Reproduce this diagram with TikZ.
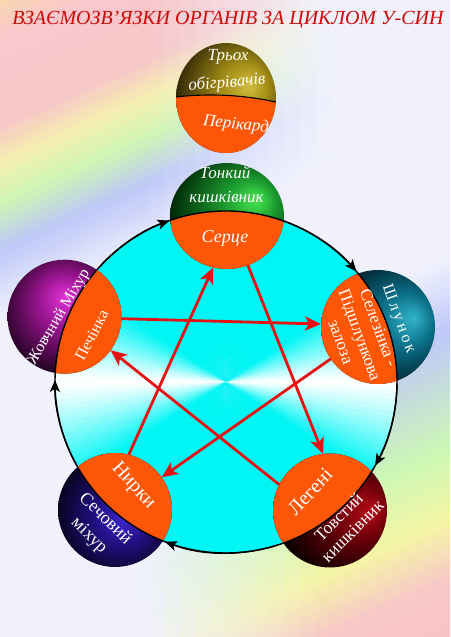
\documentclass[tikz,border=0pt]{standalone}
\usepackage{fontspec}
\setmainfont{Liberation Serif}
\usetikzlibrary{arrows.meta,calc,shapes.geometric}
\definecolor{org}{RGB}{252,86,6}
\definecolor{cy}{RGB}{0,245,245}
\definecolor{redc}{RGB}{228,18,18}
\definecolor{titred}{RGB}{205,10,10}
\definecolor{basec}{RGB}{240,241,252}
\definecolor{olA}{RGB}{210,190,60}
\definecolor{olB}{RGB}{160,138,20}
\definecolor{olC}{RGB}{50,40,5}
\definecolor{grA}{RGB}{70,230,80}
\definecolor{grB}{RGB}{25,150,45}
\definecolor{grC}{RGB}{0,40,8}
\definecolor{puA}{RGB}{225,50,215}
\definecolor{puB}{RGB}{150,20,140}
\definecolor{puC}{RGB}{25,0,25}
\definecolor{teA}{RGB}{50,180,200}
\definecolor{teB}{RGB}{10,110,135}
\definecolor{teC}{RGB}{0,25,35}
\definecolor{inA}{RGB}{60,40,205}
\definecolor{inB}{RGB}{35,15,130}
\definecolor{inC}{RGB}{5,0,15}
\definecolor{maA}{RGB}{180,10,20}
\definecolor{maB}{RGB}{110,0,10}
\definecolor{maC}{RGB}{12,0,0}
\pgfdeclareradialshading{shOl}{\pgfpoint{12bp}{6bp}}{color(0bp)=(olA); color(12bp)=(olB); color(30bp)=(olC); color(50bp)=(olC)}
\pgfdeclareradialshading{shGr}{\pgfpoint{13bp}{8bp}}{color(0bp)=(grA); color(12bp)=(grB); color(30bp)=(grC); color(50bp)=(grC)}
\pgfdeclareradialshading{shPu}{\pgfpoint{0bp}{9bp}}{color(0bp)=(puA); color(12bp)=(puB); color(30bp)=(puC); color(50bp)=(puC)}
\pgfdeclareradialshading{shTe}{\pgfpoint{16bp}{4bp}}{color(0bp)=(teA); color(12bp)=(teB); color(30bp)=(teC); color(50bp)=(teC)}
\pgfdeclareradialshading{shIn}{\pgfpoint{4bp}{-4bp}}{color(0bp)=(inA); color(12bp)=(inB); color(30bp)=(inC); color(50bp)=(inC)}
\pgfdeclareradialshading{shMa}{\pgfpoint{18bp}{0bp}}{color(0bp)=(maA); color(12bp)=(maB); color(30bp)=(maC); color(50bp)=(maC)}
\begin{document}
\begin{tikzpicture}[x=1pt,y=1pt,
  sph/.style={circle, inner sep=0pt, outer sep=0pt, minimum size=114pt, shade},
  circ/.style={line width=1.4pt, draw=black},
  circar/.style={circ, -{Stealth[length=12pt,width=10pt,inset=3pt]}},
  redar/.style={line width=2.8pt, draw=redc, -{Stealth[length=16pt,width=14pt,inset=4pt]}},
  itl/.style={text=white, font=\itshape\fontsize{17}{19}\selectfont, inner sep=0pt},
  upl/.style={text=white, inner sep=0pt, align=center},
]
\useasboundingbox (0,0) rectangle (450,637);
% background
\begin{scope}
\clip (0,0) rectangle (450,637);
\fill[basec] (0,0) rectangle (450,637);
% top-left ribbon
\foreach \i in {0,...,5} {
  \pgfmathsetmacro\PA{{0,40,125,165,205,250,320}[\i]}
  \pgfmathsetmacro\PB{{0,40,125,165,205,250,320}[\i+1]}
  \pgfmathsetmacro\RA{{250,248,247,245,205,190,240}[\i]}
  \pgfmathsetmacro\RB{{250,248,247,245,205,190,240}[\i+1]}
  \pgfmathsetmacro\GA{{215,200,198,240,245,200,241}[\i]}
  \pgfmathsetmacro\GB{{215,200,198,240,245,200,241}[\i+1]}
  \pgfmathsetmacro\BA{{175,205,200,175,180,248,252}[\i]}
  \pgfmathsetmacro\BB{{175,205,200,175,180,248,252}[\i+1]}
  \pgfmathtruncatemacro\NN{max(1,round((\PB-\PA)/7))}
  \pgfmathsetmacro\ST{(\PB-\PA)/\NN}
  \foreach \j in {1,...,\NN} {
    \pgfmathsetmacro\TQ{(\j-0.5)/\NN}
    \pgfmathsetmacro\QA{\PA+(\j-1)*\ST}
    \pgfmathsetmacro\QB{\PA+\j*\ST+0.8}
    \pgfmathsetmacro\CR{\RA+\TQ*(\RB-\RA)}
    \pgfmathsetmacro\CG{\GA+\TQ*(\GB-\GA)}
    \pgfmathsetmacro\CB{\BA+\TQ*(\BB-\BA)}
    \foreach \k in {0,...,21} {
      \pgfmathsetmacro\XA{15*\k}
      \pgfmathsetmacro\XB{15*\k+15.6}
      \pgfmathsetmacro\W{min(1,max(0,(322-15*\k)/180))}
      \pgfmathsetmacro\MR{(\W*\CR+(1-\W)*240)/255}
      \pgfmathsetmacro\MG{(\W*\CG+(1-\W)*241)/255}
      \pgfmathsetmacro\MB{(\W*\CB+(1-\W)*252)/255}
      \definecolor{bgc}{rgb}{\MR,\MG,\MB}
      \fill[bgc] (\XA,637-\QA+0.45*\XA) -- (\XB,637-\QA+0.45*\XB) -- (\XB,637-\QB+0.45*\XB) -- (\XA,637-\QB+0.45*\XA) -- cycle;
    }
  }
}
% bottom-right ribbon
\foreach \i in {0,...,4} {
  \pgfmathsetmacro\PA{{460,532,652,722,782,845}[\i]}
  \pgfmathsetmacro\PB{{460,532,652,722,782,845}[\i+1]}
  \pgfmathsetmacro\RA{{240,190,205,245,248,250}[\i]}
  \pgfmathsetmacro\RB{{240,190,205,245,248,250}[\i+1]}
  \pgfmathsetmacro\GA{{241,200,248,245,200,195}[\i]}
  \pgfmathsetmacro\GB{{241,200,248,245,200,195}[\i+1]}
  \pgfmathsetmacro\BA{{252,250,180,165,200,195}[\i]}
  \pgfmathsetmacro\BB{{252,250,180,165,200,195}[\i+1]}
  \pgfmathtruncatemacro\NN{max(1,round((\PB-\PA)/7))}
  \pgfmathsetmacro\ST{(\PB-\PA)/\NN}
  \foreach \j in {1,...,\NN} {
    \pgfmathsetmacro\TQ{(\j-0.5)/\NN}
    \pgfmathsetmacro\QA{\PA+(\j-1)*\ST}
    \pgfmathsetmacro\QB{\PA+\j*\ST+0.8}
    \pgfmathsetmacro\CR{\RA+\TQ*(\RB-\RA)}
    \pgfmathsetmacro\CG{\GA+\TQ*(\GB-\GA)}
    \pgfmathsetmacro\CB{\BA+\TQ*(\BB-\BA)}
    \foreach \k in {9,...,29} {
      \pgfmathsetmacro\XA{15*\k}
      \pgfmathsetmacro\XB{15*\k+15.6}
      \pgfmathsetmacro\W{min(1,max(0,(15*\k+7.5-140)/180))}
      \pgfmathsetmacro\MR{(\W*\CR+(1-\W)*240)/255}
      \pgfmathsetmacro\MG{(\W*\CG+(1-\W)*241)/255}
      \pgfmathsetmacro\MB{(\W*\CB+(1-\W)*252)/255}
      \definecolor{bgc}{rgb}{\MR,\MG,\MB}
      \fill[bgc] (\XA,637-\QA+0.45*\XA) -- (\XB,637-\QA+0.45*\XB) -- (\XB,637-\QB+0.45*\XB) -- (\XA,637-\QB+0.45*\XA) -- cycle;
    }
  }
}
\end{scope}
% big circle conical fill
\coordinate (C) at (226,255);
\foreach \a in {0,2,...,358} {
  \pgfmathsetmacro\PC{100*min(1,(abs(sin(\a+1))/0.55)^1.2)}
  \fill[cy!\PC!white] (C) -- ($(C)+(\a:171.3)$) arc[start angle=\a,end angle=\a+2.5,radius=171.3] -- cycle;
}
% spheres
\node[sph, ellipse, minimum width=100pt, minimum height=110pt, shading=shOl] (sj) at (226,539) {};
\node[sph, ellipse, minimum width=114pt, minimum height=106pt, shading=shGr] (ht) at (227,421) {};
\node[sph, shading=shPu] (lv) at (64.5,320.3) {};
\node[sph, shading=shTe] (sp) at (378,310) {};
\node[sph, shading=shIn] (kd) at (115,127) {};
\node[sph, shading=shMa] (lg) at (330,126.5) {};
\begin{scope}
\clip (C) circle (171);
\fill[org] (ht.center) ellipse[x radius=57,y radius=53];
\fill[org] (lv.center) circle (57);
\fill[org] (sp.center) circle (57);
\fill[org] (kd.center) circle (57);
\fill[org] (lg.center) circle (57);
\end{scope}
\coordinate (tsc) at (211,242);
\begin{scope}
\clip (sj.center) ellipse[x radius=50,y radius=55];
\fill[org] (tsc) circle (300);
\draw[line width=1.1pt] (tsc) circle (300);
\end{scope}
% cycle circle
\draw[circ] (C) circle (171);
\draw[circar] ($(C)+(137:171)$) arc[start angle=137,end angle=109.3,radius=171];
\draw[circar] ($(C)+(70.7:171)$) arc[start angle=70.7,end angle=40.25,radius=171];
\draw[circar] ($(C)+(-0.5:171)$) arc[start angle=-0.5,end angle=-29.3,radius=171];
\draw[circar] ($(C)+(-72.5:171)$) arc[start angle=-72.5,end angle=-110.9,radius=171];
\draw[circar] ($(C)+(-151:171)$) arc[start angle=-151,end angle=-180.7,radius=171];
% red arrows
\draw[redar] (ht.-67) -- (lg.97);
\draw[redar] (lg.153) -- (lv.-36);
\draw[redar] (lv.-2) -- (sp.177);
\draw[redar] (sp.214) -- (kd.35);
\draw[redar] (kd.76) -- (ht.-105);
% texts
\node[itl] (t1) at (228,580) {Трьох};
\node[itl, rotate=5] (t2) at (227,554) {обігрівачів};
\node[itl, rotate=-6] (t3) at (236,512) {Перікард};
\node[itl] (t4) at (225,464) {Тонкий};
\node[itl] (t5) at (226.5,440) {кишківник};
\node[itl, font=\itshape\fontsize{18}{20}\selectfont] (t6) at (225,399) {Серце};
\node[upl, rotate=59.5, font=\fontsize{16}{18}\selectfont] (t7) at (59,320) {Жовчний Міхур};
\node[upl, rotate=62, font=\fontsize{16}{18}\selectfont] (t8) at (91.7,302) {Печінка};
\node[upl, rotate=-70, font=\fontsize{17}{20}\selectfont] (t9) at (360,302) {Селезінка -\\Підшлункова\\залоза};
\node[upl, rotate=-70, font=\fontsize{16}{18}\selectfont\addfontfeatures{LetterSpace=20}] (t10) at (398.3,318) {Шлунок};
\node[upl, rotate=-48, font=\fontsize{20}{22}\selectfont] (t11) at (133.3,151.2) {Нирки};
\node[upl, rotate=-44, font=\fontsize{18}{23}\selectfont] (t12) at (97,109.5) {Сечовий\\міхур};
\node[upl, rotate=47, font=\fontsize{20}{22}\selectfont] (t13) at (310,145.3) {Легені};
\node[upl, rotate=45, font=\fontsize{17.5}{19.5}\selectfont] (t14) at (345.3,113.3) {Товстий\\кишківник};
\node[text=titred, font=\itshape\fontsize{20}{22}\selectfont, inner sep=0pt] (title) at (228,617) {ВЗАЄМОЗВ’ЯЗКИ ОРГАНІВ ЗА ЦИКЛОМ У-СИН};
\end{tikzpicture}
\end{document}
